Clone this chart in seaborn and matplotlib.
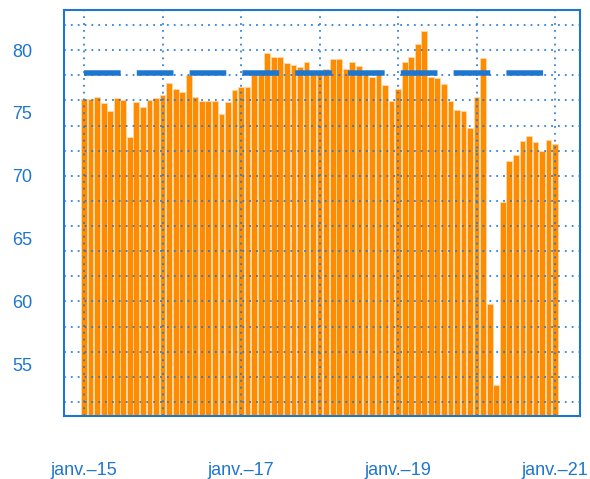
import pandas as pd
import matplotlib
matplotlib.use("Agg")
import matplotlib.pyplot as plt
import seaborn as sns

# Monthly values, Jan 2015 -> Jan 2021
months = pd.date_range("2015-01-01", "2021-01-01", freq="MS")
values = [
    76.15, 76.10, 76.26, 75.80, 75.14, 76.18, 76.00, 73.10, 75.90, 75.50, 76.04, 76.20,
    76.44, 77.37, 76.90, 76.70, 78.03, 76.30, 75.94, 75.97, 75.97, 74.93, 75.90, 76.80,
    77.08, 77.10, 78.20, 78.10, 79.74, 79.47, 79.42, 79.02, 78.86, 78.65, 79.04, 78.10,
    78.20, 78.51, 79.28, 79.28, 78.49, 79.04, 78.73, 78.10, 77.85, 78.46, 77.24, 75.94,
    76.95, 79.07, 79.44, 80.53, 81.49, 77.85, 77.82, 77.27, 75.94, 75.20, 75.17, 73.84,
    76.26, 79.36, 59.80, 53.33, 67.92, 71.16, 71.67, 72.75, 73.20, 72.67, 71.98, 72.86,
    72.50,
]
target = 78.2

y_ticks = [55, 60, 65, 70, 75, 80]
y_grid = list(range(52, 84, 2))
x_label_months = ["2015-01", "2017-01", "2019-01", "2021-01"]
x_labels = ["janv.\u201315", "janv.\u201317", "janv.\u201319", "janv.\u201321"]

blue = "#1E76CE"
orange = "#FF8C00"

df = pd.DataFrame({"month": months.strftime("%Y-%m"), "value": values})

sns.set_style("white")
plt.rcParams["font.family"] = ["Liberation Sans", "DejaVu Sans"]

fig = plt.figure(figsize=(5.9, 4.79), dpi=100)
ax = fig.add_axes([64 / 590, 1 - 415.7 / 479, (580 - 64) / 590, (415.7 - 10) / 479])

sns.barplot(data=df, x="month", y="value", color=orange, saturation=1,
            width=0.88, edgecolor="#FFD9AA", linewidth=0.6, ax=ax, zorder=2)

# reference level
ax.hlines(target, 0, len(values) - 1, colors=blue, linewidth=3.96,
          linestyles=(0, (6.67, 2.93)), zorder=4)

month_list = list(df["month"])
year_pos = [i for i, m in enumerate(month_list) if m.endswith("-01")]
label_pos = [month_list.index(m) for m in x_label_months]

ax.set_xlim(-3.06, 75.8)
ax.set_ylim(50.9, 83.2)

ax.set_xticks(label_pos)
ax.set_xticklabels(x_labels)
ax.set_xticks(year_pos, minor=True)
ax.set_yticks(y_ticks)
ax.set_yticks(y_grid, minor=True)

ax.grid(False)
for x in year_pos:
    ax.axvline(x, color=blue, linewidth=1.3, linestyle=(0, (1, 2.8)), zorder=3, alpha=0.9)
for y in y_grid:
    ax.axhline(y, color=blue, linewidth=1.3, linestyle=(0, (1, 2.8)), zorder=3, alpha=0.9)

ax.tick_params(axis="both", which="both", length=0, colors=blue, labelsize=13)
ax.tick_params(axis="y", pad=23)
ax.tick_params(axis="x", pad=33)
ax.set_xlabel("")
ax.set_ylabel("")

for s in ax.spines.values():
    s.set_visible(True)
    s.set_color(blue)
    s.set_linewidth(1.5)

fig.savefig("out.png", dpi=100)
